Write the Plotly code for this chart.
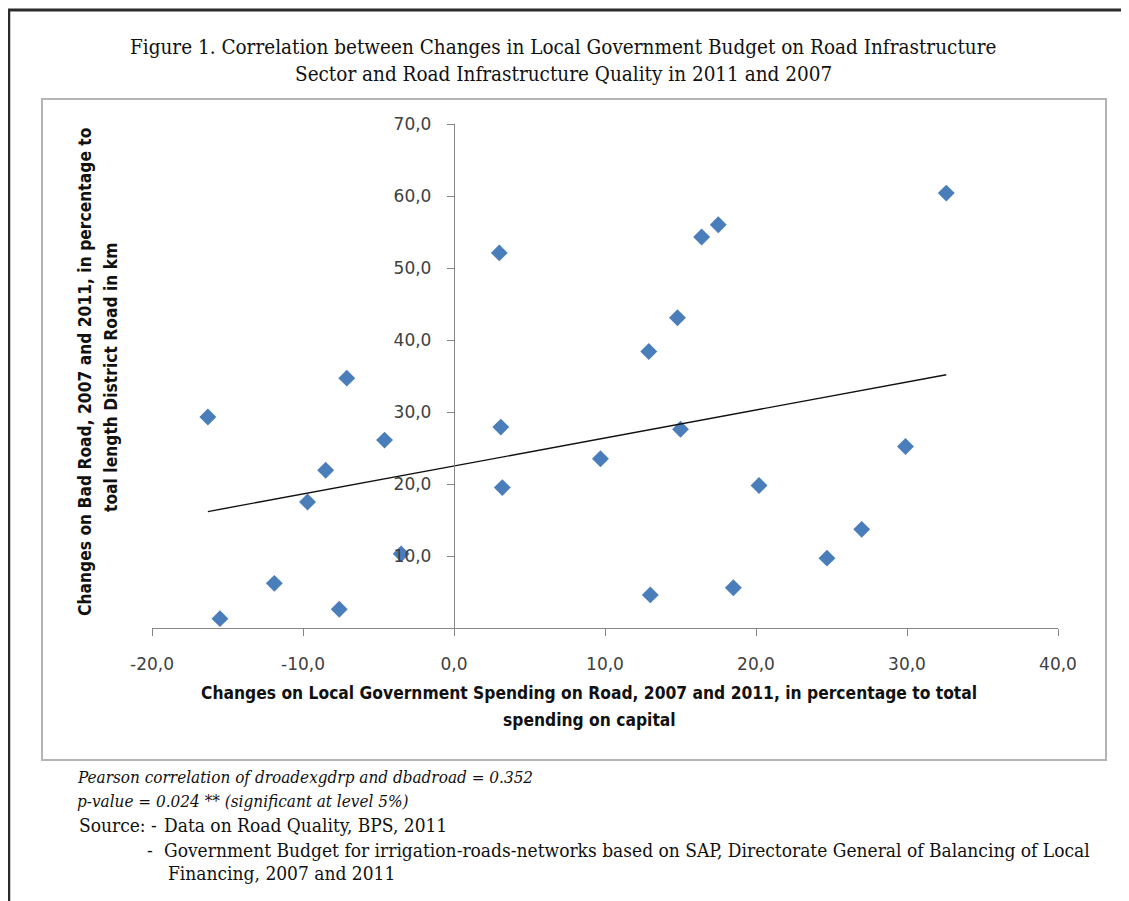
import numpy as np
import plotly.graph_objects as go

# ---- data ----
spending_change = [-16.3, -15.5, -11.9, -9.7, -8.5, -7.6, -7.1, -4.6, -3.5,
                   3.0, 3.1, 3.2, 9.7, 12.9, 13.0, 14.8, 15.0, 16.4, 17.5,
                   18.5, 20.2, 24.7, 27.0, 29.9, 32.6]
badroad_change = [29.3, 1.3, 6.2, 17.5, 21.9, 2.6, 34.7, 26.1, 10.3,
                  52.1, 27.9, 19.5, 23.5, 38.4, 4.6, 43.1, 27.6, 54.3, 56.0,
                  5.6, 19.8, 9.7, 13.7, 25.2, 60.4]
x_tickvals = [-20, -10, 0, 10, 20, 30, 40]
x_ticktext = ["-20,0", "-10,0", "0,0", "10,0", "20,0", "30,0", "40,0"]
y_tickvals = [10, 20, 30, 40, 50, 60, 70]
y_ticktext = ["10,0", "20,0", "30,0", "40,0", "50,0", "60,0", "70,0"]

title_lines = ["Figure 1. Correlation between Changes in Local Government Budget on Road Infrastructure",
               "Sector and Road Infrastructure Quality in 2011 and 2007"]
x_title = ["Changes on Local Government Spending on Road, 2007 and 2011, in percentage to total",
           "spending on capital"]
y_title = ["Changes on Bad Road, 2007 and 2011, in percentage to",
           "toal length District Road in km"]

# ---- layout geometry (pixels, in reference-image coordinates) ----
OFF = 8  # page body margin
W, H = 1129 - OFF, 901 - OFF
L, R, T, B = 152, 1058, 124, 628
PW, PH = R - L, B - T


def px(x):
    return (x - L) / PW


def py(y):
    return (B - y) / PH


xs = np.array(spending_change)
ys = np.array(badroad_change)
slope, intercept = np.polyfit(xs, ys, 1)
fit_x = [xs.min(), xs.max()]
fit_y = [slope * v + intercept for v in fit_x]

fig = go.Figure()
fig.add_trace(go.Scatter(x=spending_change, y=badroad_change, mode="markers",
                         marker=dict(symbol="diamond", size=13, color="#4A7EBB",
                                     line=dict(width=0)),
                         showlegend=False, hoverinfo="x+y"))
fig.add_trace(go.Scatter(x=fit_x, y=fit_y, mode="lines",
                         line=dict(color="#111111", width=1.4),
                         showlegend=False, hoverinfo="skip"))

tick_font = dict(family="DejaVu Sans", size=17, color="#404040")
fig.update_layout(
    width=W, height=H, autosize=False,
    margin=dict(l=L - OFF, r=W - (R - OFF), t=T - OFF, b=H - (B - OFF), pad=0),
    paper_bgcolor="white", plot_bgcolor="white",
    xaxis=dict(range=[-20, 40], tickvals=x_tickvals, ticktext=x_ticktext,
               showgrid=False, zeroline=False, showline=True, linecolor="#868686",
               linewidth=1.3, ticks="outside", ticklen=7, tickcolor="#868686",
               tickwidth=1.3, tickfont=tick_font, ticklabelstandoff=13),
    yaxis=dict(range=[0, 70], tickvals=y_tickvals, ticktext=y_ticktext,
               anchor="free", position=1 / 3,
               showgrid=False, zeroline=False, showline=True, linecolor="#868686",
               linewidth=1.3, ticks="outside", ticklen=7, tickcolor="#868686",
               tickwidth=1.3, tickfont=tick_font, ticklabelstandoff=12),
)

shapes = [
    # outer frame
    dict(type="line", xref="paper", yref="paper", x0=px(8), x1=px(1129), y0=py(10), y1=py(10),
         line=dict(color="#2b2b2b", width=3)),
    dict(type="line", xref="paper", yref="paper", x0=px(9), x1=px(9), y0=py(9), y1=py(901),
         line=dict(color="#2b2b2b", width=2.5)),
    # chart box
    dict(type="rect", xref="paper", yref="paper", x0=px(42), x1=px(1106), y0=py(99), y1=py(760),
         line=dict(color="#b4b4b4", width=2), layer="below"),
]
fig.update_layout(shapes=shapes)

ann = []
title_font = dict(family="DejaVu Serif Condensed, DejaVu Serif", size=20.5, color="#111111")
ann.append(dict(text=title_lines[0], x=px(563), y=py(47), xref="paper", yref="paper",
                showarrow=False, font=title_font, xanchor="center", yanchor="middle"))
ann.append(dict(text=title_lines[1], x=px(563), y=py(74), xref="paper", yref="paper",
                showarrow=False, font=title_font, xanchor="center", yanchor="middle"))

axis_title_font = dict(family="DejaVu Sans Condensed, Roboto", size=17.3, color="#111111")
ann.append(dict(text="<b>" + x_title[0] + "</b>", x=px(589), y=py(693), xref="paper", yref="paper",
                showarrow=False, font=axis_title_font, xanchor="center", yanchor="middle"))
ann.append(dict(text="<b>" + x_title[1] + "</b>", x=px(589), y=py(720), xref="paper", yref="paper",
                showarrow=False, font=axis_title_font, xanchor="center", yanchor="middle"))
ann.append(dict(text="<b>" + y_title[0] + "</b>", x=px(85), y=py(372), xref="paper", yref="paper",
                showarrow=False, font=axis_title_font, textangle=-90,
                xanchor="center", yanchor="middle"))
ann.append(dict(text="<b>" + y_title[1] + "</b>", x=px(111), y=py(378), xref="paper", yref="paper",
                showarrow=False, font=axis_title_font, textangle=-90,
                xanchor="center", yanchor="middle"))

note_family = "DejaVu Serif Condensed, DejaVu Serif"
italic_font = dict(family=note_family, size=17, color="#111111")
note_font = dict(family=note_family, size=19, color="#111111")
notes = [
    ("<i>Pearson correlation of droadexgdrp and dbadroad = 0.352</i>", 75, 777, italic_font),
    ("<i>p-value = 0.024 ** (significant at level 5%)</i>", 75, 801, italic_font),
    ("Source: -", 77, 825, note_font),
    ("Data on Road Quality, BPS, 2011", 162, 825, note_font),
    ("-", 145, 850, note_font),
    ("Government Budget for irrigation-roads-networks based on SAP, Directorate General of Balancing of Local", 162, 850, note_font),
    ("Financing, 2007 and 2011", 166, 873, note_font),
]
for t, x0, y0, f in notes:
    ann.append(dict(text=t, x=px(x0), y=py(y0), xref="paper", yref="paper", showarrow=False,
                    font=f, xanchor="left", yanchor="middle"))
fig.update_layout(annotations=ann)

fig.write_html("out.html")
